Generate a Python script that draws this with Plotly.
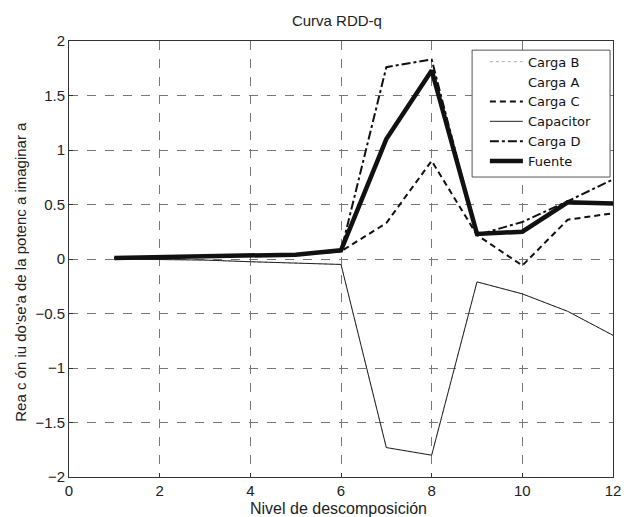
import plotly.graph_objects as go

x = [1, 2, 3, 4, 5, 6, 7, 8, 9, 10, 11, 12]

carga_b = [0.0, -0.005, -0.01, -0.025, -0.04, -0.05, -1.73, -1.80, -0.21, -0.32, -0.48, -0.70]
carga_a = [0.01, 0.02, 0.02, 0.04, 0.04, 0.08, 1.10, 1.73, 0.23, 0.25, 0.52, 0.51]
carga_c = [0.01, 0.015, 0.02, 0.03, 0.04, 0.07, 0.33, 0.90, 0.22, -0.06, 0.36, 0.42]
capacitor = [0.0, -0.005, -0.01, -0.025, -0.04, -0.05, -1.73, -1.80, -0.21, -0.32, -0.48, -0.70]
carga_d = [0.01, 0.015, 0.02, 0.03, 0.04, 0.07, 1.76, 1.83, 0.22, 0.34, 0.53, 0.73]
fuente = [0.01, 0.02, 0.02, 0.04, 0.04, 0.08, 1.10, 1.73, 0.23, 0.25, 0.52, 0.51]

title_text = "Curva RDD-q"
x_title = "Nivel de descomposición"
y_title = "Rea c ón iu do'se'a de la potenc a imaginar a"

FONT = "Liberation Sans, Arial"

fig = go.Figure()
fig.add_trace(go.Scatter(x=x, y=carga_b, name="Carga B", mode="lines",
                         line=dict(color="#b0b0b0", width=1, dash="dot")))
fig.add_trace(go.Scatter(x=x, y=carga_a, name="Carga A", mode="lines",
                         line=dict(color="rgba(255,255,255,0)", width=1)))
fig.add_trace(go.Scatter(x=x, y=carga_c, name="Carga C", mode="lines",
                         line=dict(color="#111111", width=2, dash="6px,4px")))
fig.add_trace(go.Scatter(x=x, y=capacitor, name="Capacitor", mode="lines",
                         line=dict(color="#222222", width=1)))
fig.add_trace(go.Scatter(x=x, y=carga_d, name="Carga D", mode="lines",
                         line=dict(color="#111111", width=2, dash="dashdot")))
fig.add_trace(go.Scatter(x=x, y=fuente, name="Fuente", mode="lines",
                         line=dict(color="#111111", width=4.5)))

axis_common = dict(
    showline=True, linecolor="#333333", linewidth=1, mirror=True,
    ticks="inside", ticklen=4, tickcolor="#333333",
    showgrid=True, gridcolor="#777777", griddash="dash", gridwidth=1,
    zeroline=False,
    tickfont=dict(family=FONT, size=15, color="#222222"),
)

fig.update_layout(
    width=631, height=517,
    margin=dict(l=69, r=10, t=41, b=40),
    paper_bgcolor="white", plot_bgcolor="white",
    title=dict(text=title_text, x=0.534, xanchor="center", y=0.96, yanchor="middle",
               font=dict(family=FONT, size=15, color="#222222")),
    xaxis=dict(range=[0, 12], dtick=2, **axis_common),
    yaxis=dict(range=[-2, 2], dtick=0.5, **axis_common),
    legend=dict(x=0.7645, y=0.987, xanchor="left", yanchor="top",
                bgcolor="rgba(0,0,0,0)", borderwidth=0,
                font=dict(family="DejaVu Sans", size=13, color="#111111"),
                tracegroupgap=0, itemwidth=33),
    showlegend=True,
    shapes=[dict(type="rect", xref="paper", yref="paper",
                 x0=0.741, x1=0.9946, y0=0.688, y1=0.979,
                 line=dict(color="#555555", width=1), fillcolor="white", layer="above")],
    annotations=[
        dict(text=x_title, xref="paper", yref="paper", x=0.496, y=-0.073,
             xanchor="center", yanchor="middle", showarrow=False,
             font=dict(family=FONT, size=16, color="#222222")),
        dict(text=y_title, xref="paper", yref="paper", x=-0.0906, y=0.47,
             xanchor="center", yanchor="middle", textangle=-90, showarrow=False,
             font=dict(family=FONT, size=15, color="#222222")),
    ],
)

fig.write_html("out.html")
